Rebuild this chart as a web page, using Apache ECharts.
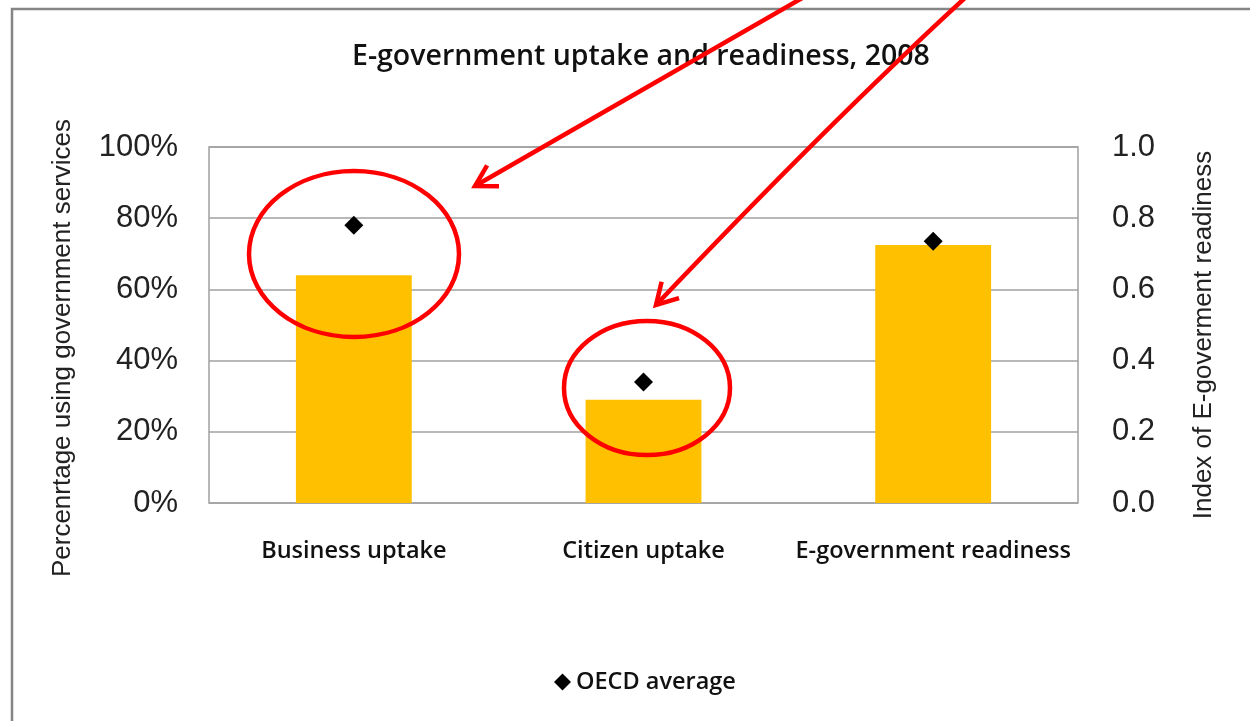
<!DOCTYPE html>
<html lang="en">
<head>
    <meta charset="UTF-8">
    <title>E-government uptake and readiness, 2008</title>
    <style>
        html, body { margin: 0; padding: 0; background: #fff; }
        #container { width: 1250px; height: 721px; }
    </style>
</head>
<body>
<div id="container"></div>
<script src="https://cdn.jsdelivr.net/npm/echarts@6/dist/echarts.min.js"></script>
<script type="text/javascript">
    // data
    var categories = ['Business uptake', 'Citizen uptake', 'E-government readiness'];
    var uptakeValues = [64, 29, '-'];          // % using government services
    var readinessValues = ['-', '-', 0.725];   // index, right axis
    var oecdUptake = [78, 34, '-'];
    var oecdReadiness = ['-', '-', 0.735];
    var leftTicks = [0, 100, 20];
    var rightTicks = [0, 1, 0.2];

    var red = '#ff0000';
    var font = 'Liberation Sans';
    var bold = 'Open Sans';

    // arrow: curved line + two head strokes
    function arrow(x1, y1, cx, cy, x2, y2) {
        var dx = x2 - cx, dy = y2 - cy;
        var len = Math.sqrt(dx * dx + dy * dy);
        var ux = dx / len, uy = dy / len;
        var h = 24, a = Math.PI / 6;
        var p1 = [x2 - h * (ux * Math.cos(a) - uy * Math.sin(a)), y2 - h * (uy * Math.cos(a) + ux * Math.sin(a))];
        var p2 = [x2 - h * (ux * Math.cos(a) + uy * Math.sin(a)), y2 - h * (uy * Math.cos(a) - ux * Math.sin(a))];
        return [
            { type: 'bezierCurve', z: 100, shape: { x1: x1, y1: y1, x2: x2, y2: y2, cpx1: cx, cpy1: cy },
              style: { stroke: red, lineWidth: 4.5, fill: null } },
            { type: 'polyline', z: 100, shape: { points: [p1, [x2, y2], p2] },
              style: { stroke: red, lineWidth: 4.5, fill: null, lineJoin: 'miter' } }
        ];
    }

    var chart = echarts.init(document.getElementById('container'));
    var option = {
        backgroundColor: '#fff',
        animation: false,
        title: {
            text: 'E-government uptake and readiness, 2008',
            left: 347,
            top: 37,
            textStyle: { fontFamily: bold, fontWeight: 600, fontSize: 28.5, color: '#111' }
        },
        legend: {
            data: ['OECD average'],
            bottom: 22,
            left: 549,
            icon: 'diamond',
            itemWidth: 17,
            itemHeight: 17,
            itemGap: 6,
            textStyle: { fontFamily: bold, fontWeight: 600, fontSize: 23.5, color: '#111' }
        },
        grid: { left: 209, right: 172, top: 147, bottom: 218, show: true, borderColor: '#a0a0a0', borderWidth: 1.5 },
        xAxis: {
            type: 'category',
            data: categories,
            axisLine: { show: false },
            axisTick: { show: false },
            axisLabel: { interval: 0, margin: 36, fontFamily: bold, fontWeight: 600, fontSize: 23.5, color: '#111' }
        },
        yAxis: [
            {
                type: 'value',
                min: leftTicks[0], max: leftTicks[1], interval: leftTicks[2],
                name: 'Percenrtage using government services',
                nameLocation: 'middle',
                nameGap: 133,
                nameTextStyle: { fontFamily: font, fontSize: 26, color: '#222', padding: [0, 46, 0, 0] },
                axisLine: { show: false },
                axisTick: { show: false },
                splitLine: { lineStyle: { color: '#a0a0a0', width: 1.5 } },
                axisLabel: { formatter: '{value}%', margin: 31, fontFamily: font, fontSize: 31, color: '#222' }
            },
            {
                type: 'value',
                min: rightTicks[0], max: rightTicks[1], interval: rightTicks[2],
                name: 'Index of E-goverment readiness',
                nameLocation: 'middle',
                nameGap: 113,
                nameRotate: 90,
                nameTextStyle: { fontFamily: font, fontSize: 26, color: '#222', padding: [0, 20, 0, 0] },
                axisLine: { show: false },
                axisTick: { show: false },
                splitLine: { show: false },
                axisLabel: { formatter: function (v) { return v.toFixed(1); }, margin: 34, fontFamily: font, fontSize: 31, color: '#222' }
            }
        ],
        series: [
            { name: 'Uptake', type: 'bar', yAxisIndex: 0, data: uptakeValues, barWidth: '40%', barGap: '-100%',
              itemStyle: { color: '#ffc000' } },
            { name: 'Readiness', type: 'bar', yAxisIndex: 1, data: readinessValues, barWidth: '40%', barGap: '-100%',
              itemStyle: { color: '#ffc000' } },
            { name: 'OECD average', type: 'scatter', yAxisIndex: 0, data: oecdUptake, symbol: 'diamond', symbolSize: 19,
              itemStyle: { color: '#000', opacity: 1 }, z: 5 },
            { name: 'OECD average', type: 'scatter', yAxisIndex: 1, data: oecdReadiness, symbol: 'diamond', symbolSize: 19,
              itemStyle: { color: '#000', opacity: 1 }, z: 5 }
        ],
        graphic: [
            // outer chart frame
            { type: 'polyline', z: 50, shape: { points: [[12, 725], [12, 9], [1255, 9]] },
              style: { stroke: '#858585', lineWidth: 2.5, fill: null } },
            // highlight ellipses
            { type: 'ellipse', z: 100, shape: { cx: 354, cy: 254, rx: 105, ry: 83 },
              style: { stroke: red, lineWidth: 4.5, fill: null } },
            { type: 'ellipse', z: 100, shape: { cx: 647, cy: 388, rx: 83, ry: 67 },
              style: { stroke: red, lineWidth: 4.5, fill: null } }
        ].concat(arrow(804, -3, 640, 92, 475, 186)).concat(arrow(966, -3, 830, 122, 656, 305))
    };
    chart.setOption(option);
</script>
</body>
</html>
